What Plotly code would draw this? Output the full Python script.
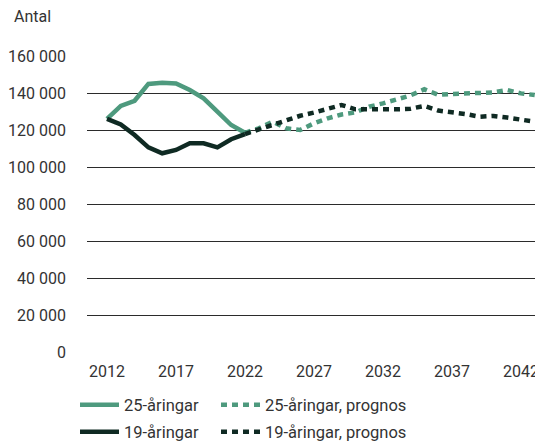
import plotly.graph_objects as go

years_hist = list(range(2012, 2023))
age25_hist = [126000, 133000, 135800, 144900, 145600, 145200, 141600, 137100, 129900, 122700, 118500]
age19_hist = [126000, 123000, 117300, 110600, 107400, 109200, 112800, 112800, 110600, 115000, 117800]

years_prog = list(range(2022, 2044))
age25_prog = [118500, 120900, 124500, 120900, 120000, 123600, 126300, 128400, 129500, 132600, 134400,
              136600, 138700, 142000, 139000, 139500, 139800, 140200, 140300, 141600, 139800, 138900]
age19_prog = [117800, 120300, 122700, 125400, 127700, 129400, 131400, 133500, 131200, 131200, 130800,
              131200, 131500, 133000, 130500, 129700, 128600, 127200, 127600, 126700, 125400, 124500]

x_ticks = [2012, 2017, 2022, 2027, 2032, 2037, 2042]
y_ticks = [0, 20000, 40000, 60000, 80000, 100000, 120000, 140000, 160000]
y_labels = ["0", "20 000", "40 000", "60 000", "80 000", "100 000", "120 000", "140 000", "160 000"]

GREEN = "#4e9a7e"
DARK = "#0f2a23"
FONT = "Roboto"
TXT = "#333333"
# page body has an 8px margin, so the figure is 8px smaller than the window
W, H = 535, 433

fig = go.Figure()
fig.add_trace(go.Scatter(x=years_hist, y=age25_hist, mode="lines", name="25-åringar",
                         line=dict(color=GREEN, width=4.5), legend="legend"))
fig.add_trace(go.Scatter(x=years_prog, y=age25_prog, mode="lines", name="25-åringar, prognos",
                         line=dict(color=GREEN, width=4.5, dash="6px,5px"), legend="legend2"))
fig.add_trace(go.Scatter(x=years_hist, y=age19_hist, mode="lines", name="19-åringar",
                         line=dict(color=DARK, width=4.5), legend="legend3"))
fig.add_trace(go.Scatter(x=years_prog, y=age19_prog, mode="lines", name="19-åringar, prognos",
                         line=dict(color=DARK, width=4.5, dash="6px,5px"), legend="legend4"))


def leg(x_px, y_px):
    return dict(orientation="h", xanchor="left", yanchor="middle",
                x=x_px / W, y=1 - y_px / H, xref="container", yref="container",
                font=dict(family=FONT, size=16.5, color=TXT), itemwidth=39,
                bgcolor="rgba(0,0,0,0)")


fig.update_layout(
    width=W, height=H,
    margin=dict(l=79, r=0, t=48, b=89, autoexpand=False),
    paper_bgcolor="white", plot_bgcolor="white",
    font=dict(family=FONT, size=16, color=TXT),
    showlegend=True,
    legend=leg(67, 397),
    legend2=leg(208, 397),
    legend3=leg(67, 424),
    legend4=leg(208, 424),
    xaxis=dict(range=[2010.55, 2043.6], tickvals=x_ticks, ticktext=[str(v) for v in x_ticks],
               showgrid=False, zeroline=False, showline=False, ticks="", automargin=False,
               ticklabelstandoff=8,
               tickfont=dict(family=FONT, size=16, color=TXT)),
    yaxis=dict(range=[0, 160000], tickvals=y_ticks, ticktext=y_labels,
               showgrid=True, gridcolor="#2b2b2b", gridwidth=1, zeroline=False, showline=False,
               ticks="", ticklabelstandoff=20, automargin=False,
               tickfont=dict(family=FONT, size=16, color=TXT)),
    annotations=[dict(text="Antal", xref="paper", yref="paper", x=-0.1645, y=1.132,
                      xanchor="left", yanchor="middle", showarrow=False,
                      font=dict(family=FONT, size=16, color=TXT))],
)

fig.write_html("out.html")
